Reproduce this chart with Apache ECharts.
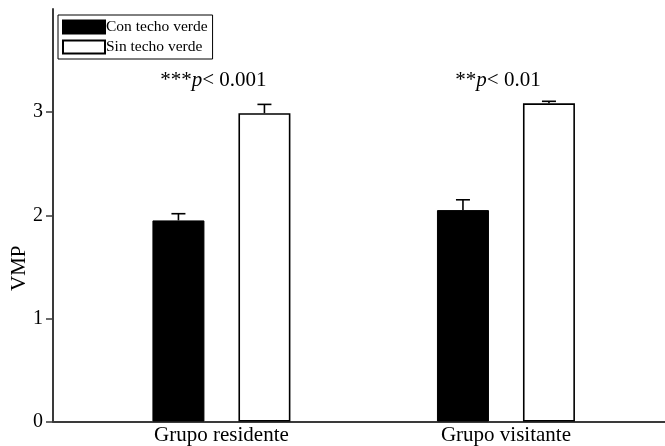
<!DOCTYPE html>
<html>
<head>
<meta charset="utf-8">
<script src="https://cdn.jsdelivr.net/npm/echarts@6/dist/echarts.min.js"></script>
<style>html,body{margin:0;padding:0;background:#fff}#c{width:665px;height:446px}</style>
</head>
<body>
<div id="c"></div>
<script>
var categories = ['Grupo residente', 'Grupo visitante'];
var seriesNames = ['Con techo verde', 'Sin techo verde'];
var conTecho = [1.95, 2.05];
var conTechoErr = [0.065, 0.10];
var sinTecho = [2.99, 3.085];
var sinTechoErr = [0.085, 0.02];
var yTicks = [0, 1, 2, 3];
var annStars = ['***', '**'];
var annP = ['0.001', '0.01'];
var annY = [3.31, 3.31];

var FONT = '"Liberation Serif", "Times New Roman", serif';
var BAR_W = 52, GAP = 34;
var OFF = (BAR_W + GAP) / 2;

function barData(vals) { return vals.map(function (v, i) { return [i, v]; }); }
function errData(vals, errs) { return vals.map(function (v, i) { return [i, v, v + errs[i]]; }); }

function errRender(offset) {
  return function (params, api) {
    var x = api.value(0);
    var p1 = api.coord([x, api.value(1)]);
    var p2 = api.coord([x, api.value(2)]);
    var cx = p1[0] + offset;
    var st = { stroke: '#000', lineWidth: 1.6 };
    return {
      type: 'group',
      children: [
        { type: 'line', shape: { x1: cx, y1: p1[1], x2: cx, y2: p2[1] }, style: st },
        { type: 'line', shape: { x1: cx - 7, y1: p2[1], x2: cx + 7, y2: p2[1] }, style: st }
      ]
    };
  };
}

var chart = echarts.init(document.getElementById('c'));
chart.setOption({
  animation: false,
  textStyle: { fontFamily: FONT },
  grid: { left: 53, right: 0, top: 9, bottom: 24.5, containLabel: false, outerBoundsMode: 'none' },
  legend: {
    left: 58, top: 15,
    orient: 'vertical',
    data: seriesNames,
    icon: 'rect',
    itemWidth: 42, itemHeight: 13, itemGap: 4,
    borderColor: '#000', borderWidth: 1,
    padding: [4, 5, 4, 4],
    selectedMode: false,
    textStyle: { fontFamily: FONT, fontSize: 15.5, color: '#000', lineHeight: 14, padding: [0, 0, 0, -4] }
  },
  xAxis: {
    type: 'value',
    min: -0.592, max: 1.559,
    axisLine: { show: true, onZero: false, lineStyle: { color: '#3a3a3a', width: 2 } },
    axisTick: { show: false },
    splitLine: { show: false },
    axisLabel: {
      customValues: [0, 1],
      formatter: function (v) { return categories[Math.round(v)]; },
      fontFamily: FONT, fontSize: 21, color: '#000', margin: 3
    }
  },
  yAxis: {
    type: 'value',
    min: 0, max: 4,
    name: 'VMP',
    nameLocation: 'middle',
    nameGap: 23,
    nameMoveOverlap: false,
    nameTextStyle: { fontFamily: FONT, fontSize: 21, color: '#000', padding: [0, 106, 0, 0] },
    axisLine: { show: true, onZero: false, lineStyle: { color: '#3a3a3a', width: 2 } },
    axisTick: { show: true, customValues: yTicks, length: 7, lineStyle: { color: '#3a3a3a', width: 1.5 } },
    splitLine: { show: false },
    axisLabel: { customValues: yTicks, fontFamily: FONT, fontSize: 20, color: '#000', margin: 10 }
  },
  series: [
    {
      name: seriesNames[0], type: 'bar', data: barData(conTecho),
      barWidth: BAR_W, barGap: (GAP / BAR_W * 100) + '%',
      itemStyle: { color: '#000', borderColor: '#000', borderWidth: 1 }
    },
    {
      name: seriesNames[1], type: 'bar', data: barData(sinTecho),
      barWidth: BAR_W, barGap: (GAP / BAR_W * 100) + '%',
      itemStyle: { color: '#fff', borderColor: '#000', borderWidth: 1.6 }
    },
    { type: 'custom', data: errData(conTecho, conTechoErr), renderItem: errRender(-OFF), z: 5, silent: true },
    { type: 'custom', data: errData(sinTecho, sinTechoErr), renderItem: errRender(OFF), z: 5, silent: true },
    {
      type: 'custom', z: 6, silent: true,
      data: annY.map(function (y, i) { return [i, y]; }),
      renderItem: function (params, api) {
        var p = api.coord([api.value(0), api.value(1)]);
        var i = params.dataIndex;
        return {
          type: 'text',
          x: p[0] - 8, y: p[1],
          style: {
            text: '{s|' + annStars[i] + '}{i|p}{s|< ' + annP[i] + '}',
            align: 'center', verticalAlign: 'middle',
            rich: {
              s: { fontFamily: FONT, fontSize: 21, fill: '#000' },
              i: { fontFamily: FONT, fontSize: 21, fontStyle: 'italic', fill: '#000' }
            }
          }
        };
      }
    }
  ]
});
</script>
</body>
</html>
